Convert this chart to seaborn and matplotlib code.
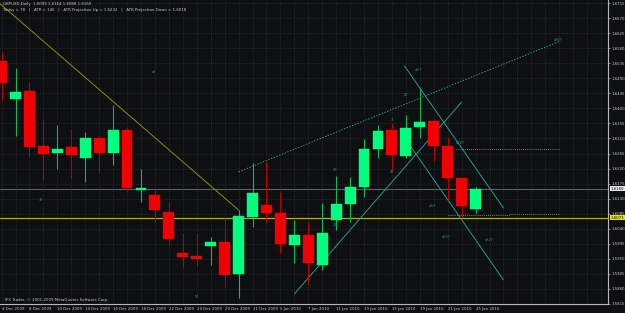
import numpy as np
import pandas as pd
import matplotlib
matplotlib.use("Agg")
import matplotlib.pyplot as plt
import seaborn as sns

# ---------------- data ----------------
dates = ["4 Dec 2009", "7 Dec 2009", "8 Dec 2009", "9 Dec 2009", "10 Dec 2009", "11 Dec 2009",
         "14 Dec 2009", "15 Dec 2009", "16 Dec 2009", "17 Dec 2009", "18 Dec 2009", "21 Dec 2009",
         "22 Dec 2009", "23 Dec 2009", "24 Dec 2009", "28 Dec 2009", "29 Dec 2009", "30 Dec 2009",
         "31 Dec 2009", "4 Jan 2010", "5 Jan 2010", "6 Jan 2010", "7 Jan 2010", "8 Jan 2010",
         "11 Jan 2010", "12 Jan 2010", "13 Jan 2010", "14 Jan 2010", "15 Jan 2010", "18 Jan 2010",
         "19 Jan 2010", "20 Jan 2010", "21 Jan 2010", "22 Jan 2010", "25 Jan 2010"]
opens = [1.6542, 1.6428, 1.6452, 1.6287, 1.6267, 1.6284, 1.6252, 1.6311, 1.6267, 1.6335,
         1.6156, 1.6140, 1.6090, 1.5968, 1.5959, 1.5988, 1.6000, 1.5905, 1.6075, 1.6111,
         1.6087, 1.5991, 1.6021, 1.5932, 1.6066, 1.6114, 1.6165, 1.6279, 1.6335, 1.6258,
         1.6344, 1.6362, 1.6287, 1.6192, 1.6099]
highs = [1.6569, 1.6521, 1.6479, 1.6368, 1.6350, 1.6338, 1.6329, 1.6317, 1.6410, 1.6344,
         1.6220, 1.6160, 1.6120, 1.6027, 1.6027, 1.6015, 1.6072, 1.6096, 1.6237, 1.6240,
         1.6150, 1.6066, 1.6060, 1.6117, 1.6198, 1.6195, 1.6308, 1.6350, 1.6356, 1.6380,
         1.6461, 1.6365, 1.6314, 1.6192, 1.6164]
lows = [1.6425, 1.6317, 1.6255, 1.6186, 1.6219, 1.6192, 1.6180, 1.6207, 1.6231, 1.6150,
        1.6120, 1.6060, 1.5990, 1.5926, 1.5929, 1.5932, 1.5866, 1.5833, 1.6045, 1.6057,
        1.5968, 1.5938, 1.5872, 1.5917, 1.6036, 1.6060, 1.6135, 1.6252, 1.6216, 1.6252,
        1.6311, 1.6243, 1.6126, 1.6075, 1.6088]
closes = [1.6476, 1.6449, 1.6284, 1.6264, 1.6279, 1.6261, 1.6311, 1.6267, 1.6335, 1.6162,
          1.6162, 1.6095, 1.6010, 1.5956, 1.5950, 1.6000, 1.5902, 1.6078, 1.6147, 1.6087,
          1.5994, 1.6021, 1.5938, 1.6027, 1.6114, 1.6165, 1.6279, 1.6332, 1.6261, 1.6341,
          1.6359, 1.6287, 1.6192, 1.6108, 1.6160]

tick_labels = ["4 Dec 2009", "8 Dec 2009", "10 Dec 2009", "14 Dec 2009", "16 Dec 2009",
               "18 Dec 2009", "22 Dec 2009", "24 Dec 2009", "29 Dec 2009", "31 Dec 2009",
               "5 Jan 2010", "7 Jan 2010", "11 Jan 2010", "13 Jan 2010", "15 Jan 2010",
               "19 Jan 2010", "21 Jan 2010", "25 Jan 2010"]
price_labels = [1.6715, 1.6670, 1.6625, 1.6580, 1.6535, 1.6490, 1.6445, 1.6400, 1.6355,
                1.6310, 1.6265, 1.6220, 1.6175, 1.6130, 1.6085, 1.6040, 1.5995, 1.5950,
                1.5905, 1.5860, 1.5815]

# trendlines: (bar index, price) pairs
olive_line = [(-1.0, 1.6745), (17.0, 1.6096)]
teal_dotted = [(17.0, 1.6210), (40.0, 1.6600)]
teal_rising = [(21.0, 1.5845), (33.0, 1.6419)]
teal_fall_1 = [(28.9, 1.6527), (36.0, 1.6102)]
teal_fall_2 = [(29.4, 1.6283), (36.0, 1.5887)]
support_level = 1.6073
bid_level = 1.6160
dotted_levels = [(32.6, 40.0, 1.6278), (32.0, 36.5, 1.6081), (36.5, 40.0, 1.6084)]

wave_labels = [(10.9, 1.6509, "a?"), (2.8, 1.6126, "3?"), (14.0, 1.5836, "5?"),
               (23.9, 1.6216, "1?"), (23.9, 1.6051, "3?"), (29.9, 1.6515, "a?i?"),
               (29.0, 1.6440, "5?"), (28.0, 1.6365, "3"), (28.0, 1.6210, "4?"),
               (32.9, 1.6296, "b?2?"), (30.9, 1.6108, "a?i?"), (31.9, 1.6015, "a?2?"),
               (35.0, 1.6006, "a?2?"), (39.9, 1.6604, "a?5?")]

header1 = "GBPUSD,Daily  1.6099 1.6164 1.6088 1.6160"
header2 = "Today = 78   |   ATR = 146   |   ATR Projection Up = 1.6232   |   ATR Projection Down = 1.6018"
footer = "IFX Trader, \u00a9 2001-2009 MetaQuotes Software Corp."

# ---------------- style ----------------
BG = "#0d0f11"
GRID = "#3a3f45"
BULL = "#00ff7f"
BEAR = "#f00000"
TEAL = "#1f9e8e"
FG = "#c8c8c8"
FS = 2.8

sns.set_theme(style="dark", rc={"axes.facecolor": BG, "figure.facecolor": BG})
plt.rcParams["font.family"] = ["DejaVu Sans"]

df = pd.DataFrame({"date": dates, "open": opens, "high": highs, "low": lows, "close": closes})
df["idx"] = np.arange(len(df))
df["bull"] = df["close"] >= df["open"]

fig = plt.figure(figsize=(6.25, 3.13), dpi=100)
ax = fig.add_axes([0.0, 9 / 313, 608 / 625, 304 / 313])
ax.set_facecolor(BG)

xmin, xmax = -0.112, 43.5
ymin, ymax = 1.5815, 1.6724
ax.set_xlim(xmin, xmax)
ax.set_ylim(ymin, ymax)

# grid
for k in range(0, 44):
    ax.axvline(k, color=GRID, lw=0.5, ls=(0, (1, 2)), zorder=0)
for p in price_labels:
    ax.axhline(p, color=GRID, lw=0.5, ls=(0, (1, 2)), zorder=0)

# reference levels
ax.axhline(support_level, color="#b4b400", lw=0.9, zorder=1)
ax.axhline(bid_level, color="#56646c", lw=0.8, zorder=1)
for x0, x1, p in dotted_levels:
    ax.plot([x0, x1], [p, p], color="#9a9a9a", lw=0.6, ls=(0, (1, 1.5)), zorder=1)

# trendlines
def seg(pts, **kw):
    xs = [p[0] for p in pts]
    ys = [p[1] for p in pts]
    sns.lineplot(x=xs, y=ys, ax=ax, sort=False, estimator=None, **kw)

seg(olive_line, color="#8c8c14", lw=0.7, zorder=1)
seg(teal_dotted, color=TEAL, lw=0.7, linestyle=(0, (1.5, 1.5)), zorder=1)
seg(teal_rising, color=TEAL, lw=0.7, zorder=1)
seg(teal_fall_1, color=TEAL, lw=0.7, zorder=1)
seg(teal_fall_2, color=TEAL, lw=0.7, zorder=1)

# candles
colors = np.where(df["bull"], BULL, BEAR)
wick_colors = np.where(df["bull"], "#00c060", "#c00000")
ax.vlines(df["idx"], df["low"], df["high"], colors=wick_colors, lw=0.8, zorder=2)
bottoms = np.minimum(df["open"], df["close"])
heights = np.maximum(np.abs(df["close"] - df["open"]), 0.00012)
ax.bar(df["idx"], heights, bottom=bottoms, width=0.78, color=colors, edgecolor=colors,
       lw=0.3, zorder=3)

# wave labels
for x, y, t in wave_labels:
    ax.text(x, y, t, color=TEAL, fontsize=2.8, ha="center", va="center", zorder=4)

# header / footer
ax.text(0.005, 0.995, header1, transform=ax.transAxes, color=FG, fontsize=FS,
        ha="left", va="top", zorder=5)
ax.text(0.005, 0.975, header2, transform=ax.transAxes, color=FG, fontsize=FS,
        ha="left", va="top", zorder=5)
ax.text(0.008, 0.006, footer, transform=ax.transAxes, color=FG, fontsize=FS,
        ha="left", va="bottom", zorder=5)

# axes & ticks
for s in ["top", "left"]:
    ax.spines[s].set_visible(False)
for s in ["right", "bottom"]:
    ax.spines[s].set_visible(True)
    ax.spines[s].set_color("#b8b8b8")
    ax.spines[s].set_linewidth(0.8)

ax.yaxis.tick_right()
ax.set_yticks(price_labels)
ax.set_yticklabels([f"{p:.4f}" for p in price_labels], fontsize=FS, color=FG)
ax.tick_params(axis="y", length=1.5, width=0.5, color="#b8b8b8", pad=0.8)

tick_pos = list(range(0, 35, 2))
ax.set_xticks(tick_pos)
ax.set_xticklabels(tick_labels, fontsize=FS, color=FG, ha="left")
ax.tick_params(axis="x", length=1.5, width=0.5, color="#b8b8b8", pad=0.8)
ax.grid(False)

# price boxes on the right axis
ax.text(1.004, (bid_level - ymin) / (ymax - ymin), f"{bid_level:.4f}", transform=ax.transAxes,
        fontsize=FS, color="#000000", ha="left", va="center",
        bbox=dict(boxstyle="square,pad=0.15", fc="#e8e8e8", ec="none"), zorder=6, clip_on=False)
ax.text(1.004, (support_level - ymin) / (ymax - ymin), f"{support_level:.4f}",
        transform=ax.transAxes, fontsize=FS, color="#000000", ha="left", va="center",
        bbox=dict(boxstyle="square,pad=0.15", fc="#e6e600", ec="none"), zorder=6, clip_on=False)

fig.savefig("out.png", dpi=100, facecolor=BG)
